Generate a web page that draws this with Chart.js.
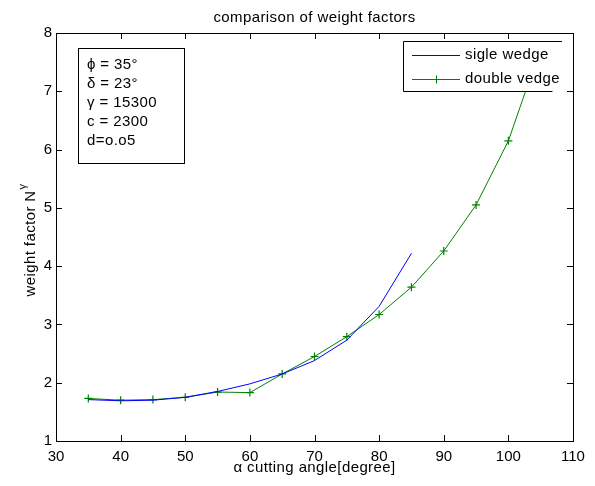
<!DOCTYPE html>
<html>
<head>
<meta charset="utf-8">
<script src="https://cdn.jsdelivr.net/npm/chart.js@4.4.1/dist/chart.umd.min.js"></script>
<style>
html,body{margin:0;padding:0;background:#fff;}
#wrap{width:595px;height:486px;position:relative;}
</style>
</head>
<body>
<div id="wrap"><canvas id="c" width="595" height="486"></canvas></div>
<script>
// ---- data ----
const titleText = "comparison of weight factors";
const xLabel = "\u03B1 cutting angle[degree]";
const yLabelMain = "weight factor N";
const yLabelSup = "\u03B3";
const singleX = [35, 40, 45, 50, 55, 60, 65, 70, 75, 80, 85];
const singleY = [1.71, 1.69, 1.70, 1.75, 1.85, 1.98, 2.15, 2.38, 2.73, 3.31, 4.22];
const doubleX = [35, 40, 45, 50, 55, 60, 65, 70, 75, 80, 85, 90, 95, 100, 105];
const doubleY = [1.73, 1.70, 1.71, 1.75, 1.84, 1.83, 2.15, 2.45, 2.79, 3.17, 3.64, 4.26, 5.05, 6.15, 7.75];
const seriesNames = ["sigle wedge", "double vedge"];
const seriesColors = ["#0000ff", "#008000"];
const annotationLines = ["\u03D5 = 35\u00B0", "\u03B4 = 23\u00B0", "\u03B3 = 15300", "c = 2300", "d=o.o5"];
const xTicks = [30, 40, 50, 60, 70, 80, 90, 100, 110];
const yTicks = [1, 2, 3, 4, 5, 6, 7, 8];

const FONT = "'Liberation Sans', Arial, Helvetica, sans-serif";
const FS = 15;
const LS = '0.4px';

const toPts = (xs, ys) => xs.map((x, i) => ({x: x, y: ys[i]}));

const decor = {
  id: 'decor',
  afterDatasetsDraw(chart) {
    const ctx = chart.ctx;
    const a = chart.chartArea;
    const xs = chart.scales.x, ys = chart.scales.y;
    ctx.save();
    // frame
    ctx.strokeStyle = '#000';
    ctx.lineWidth = 1;
    ctx.strokeRect(Math.round(a.left) + 0.5, Math.round(a.top) + 0.5,
                   Math.round(a.right - a.left), Math.round(a.bottom - a.top));
    // inward ticks
    const tl = 6;
    ctx.beginPath();
    xTicks.forEach(v => {
      const px = Math.round(xs.getPixelForValue(v)) + 0.5;
      ctx.moveTo(px, a.bottom); ctx.lineTo(px, a.bottom - tl);
      ctx.moveTo(px, a.top); ctx.lineTo(px, a.top + tl);
    });
    yTicks.forEach(v => {
      const py = Math.round(ys.getPixelForValue(v)) + 0.5;
      ctx.moveTo(a.left, py); ctx.lineTo(a.left + tl, py);
      ctx.moveTo(a.right, py); ctx.lineTo(a.right - tl, py);
    });
    ctx.stroke();

    ctx.letterSpacing = LS;
    // title
    ctx.fillStyle = '#000';
    ctx.font = FS + 'px ' + FONT;
    ctx.textAlign = 'center';
    ctx.textBaseline = 'alphabetic';
    ctx.fillText(titleText, (a.left + a.right) / 2, 22);
    // x label
    ctx.fillText(xLabel, (a.left + a.right) / 2, 472);
    // y label (rotated with superscript)
    ctx.save();
    ctx.translate(35, (a.top + a.bottom) / 2 + 3);
    ctx.rotate(-Math.PI / 2);
    ctx.font = FS + 'px ' + FONT;
    const w1 = ctx.measureText(yLabelMain).width;
    ctx.font = '11px ' + FONT;
    const w2 = ctx.measureText(yLabelSup).width;
    const tot = w1 + w2 + 1;
    ctx.textAlign = 'left';
    ctx.font = FS + 'px ' + FONT;
    ctx.fillText(yLabelMain, -tot / 2, 0);
    ctx.font = '11px ' + FONT;
    ctx.fillText(yLabelSup, -tot / 2 + w1 + 1, -9);
    ctx.restore();

    // annotation box
    ctx.fillStyle = '#fff';
    ctx.fillRect(78.5, 48.5, 106, 115);
    ctx.strokeStyle = '#000';
    ctx.strokeRect(78.5, 48.5, 106, 115);
    ctx.fillStyle = '#000';
    ctx.font = FS + 'px ' + FONT;
    ctx.textAlign = 'left';
    ctx.textBaseline = 'middle';
    annotationLines.forEach((t, i) => ctx.fillText(t, 87, 65 + i * 19));

    // legend
    const lx = 403.5, ly = 41.5, lr = 552.5, lb = 91.5;
    ctx.fillStyle = '#fff';
    ctx.fillRect(lx, ly, lr - lx, lb - ly);
    ctx.strokeStyle = '#000';
    ctx.beginPath();
    ctx.moveTo(562, ly); ctx.lineTo(lx, ly); ctx.lineTo(lx, lb); ctx.lineTo(lr, lb);
    ctx.stroke();
    const rows = [55, 79];
    seriesNames.forEach((name, i) => {
      ctx.strokeStyle = seriesColors[i];
      ctx.lineWidth = 1;
      ctx.beginPath();
      ctx.moveTo(412, rows[i] + 0.5); ctx.lineTo(460, rows[i] + 0.5);
      ctx.stroke();
      if (i === 1) {
        ctx.beginPath();
        ctx.moveTo(436.5, rows[i] - 3.5); ctx.lineTo(436.5, rows[i] + 4.5);
        ctx.moveTo(432.5, rows[i] + 0.5); ctx.lineTo(440.5, rows[i] + 0.5);
        ctx.stroke();
      }
      ctx.fillStyle = '#000';
      ctx.font = FS + 'px ' + FONT;
      ctx.textBaseline = 'middle';
      ctx.fillText(name, 465, rows[i]);
    });
    ctx.restore();
  }
};

new Chart(document.getElementById('c'), {
  type: 'line',
  data: {
    datasets: [
      {
        label: seriesNames[0],
        data: toPts(singleX, singleY),
        borderColor: seriesColors[0],
        backgroundColor: seriesColors[0],
        borderWidth: 1,
        pointRadius: 0,
        tension: 0,
        fill: false
      },
      {
        label: seriesNames[1],
        data: toPts(doubleX, doubleY),
        borderColor: seriesColors[1],
        backgroundColor: seriesColors[1],
        borderWidth: 1,
        pointStyle: 'cross',
        pointRadius: 4,
        pointBorderWidth: 1.2,
        pointBorderColor: seriesColors[1],
        tension: 0,
        fill: false
      }
    ]
  },
  options: {
    responsive: false,
    animation: false,
    devicePixelRatio: 1,
    layout: { padding: { left: 0, top: 33, right: 22, bottom: 0 } },
    plugins: { legend: { display: false }, title: { display: false }, tooltip: { enabled: false } },
    scales: {
      x: {
        type: 'linear', min: 30, max: 110,
        afterBuildTicks: s => { s.ticks = xTicks.map(v => ({value: v})); },
        afterFit: s => { s.height = 45; },
        grid: { display: false, drawTicks: false },
        border: { display: false },
        ticks: { color: '#000', font: { family: FONT, size: FS }, padding: 7, maxRotation: 0, autoSkip: false }
      },
      y: {
        type: 'linear', min: 1, max: 8,
        afterBuildTicks: s => { s.ticks = yTicks.map(v => ({value: v})); },
        afterFit: s => { s.width = 56; },
        grid: { display: false, drawTicks: false },
        border: { display: false },
        ticks: { color: '#000', font: { family: FONT, size: FS }, padding: 4, autoSkip: false }
      }
    }
  },
  plugins: [decor]
});
</script>
</body>
</html>
